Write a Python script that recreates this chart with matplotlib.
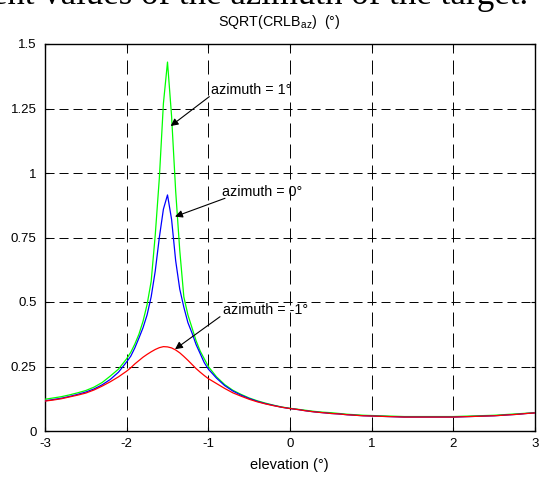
import matplotlib
matplotlib.use("Agg")
import matplotlib.pyplot as plt

plt.rcParams['font.family'] = ['Liberation Sans', 'DejaVu Sans']
plt.rcParams['mathtext.fontset'] = 'custom'
plt.rcParams['mathtext.rm'] = 'Liberation Sans'
plt.rcParams['mathtext.it'] = 'Liberation Sans:italic'

# elevation grid (deg)
elevation = [-3.0, -2.9, -2.8, -2.7, -2.6, -2.5, -2.4, -2.3, -2.2, -2.1, -2.0,
             -1.95, -1.9, -1.85, -1.8, -1.75, -1.7, -1.65, -1.6, -1.55, -1.5,
             -1.45, -1.4, -1.35, -1.3, -1.25, -1.2, -1.15, -1.1, -1.05, -1.0,
             -0.9, -0.8, -0.7, -0.6, -0.5, -0.4, -0.3, -0.2, -0.1, 0.0,
             0.1, 0.2, 0.3, 0.4, 0.5, 0.6, 0.7, 0.8, 0.9, 1.0,
             1.1, 1.2, 1.3, 1.4, 1.5, 1.6, 1.7, 1.8, 1.9, 2.0,
             2.1, 2.2, 2.3, 2.4, 2.5, 2.6, 2.7, 2.8, 2.9, 3.0]

# sqrt(CRLB_az) in degrees for three target azimuths
crlb_az_plus1 = [0.123, 0.128, 0.133, 0.14, 0.148, 0.157, 0.17, 0.188, 0.213, 0.24, 0.28,
                 0.305, 0.337, 0.375, 0.425, 0.49, 0.58, 0.76, 0.98, 1.27, 1.43,
                 1.22, 0.93, 0.70, 0.52, 0.45, 0.40, 0.35, 0.31, 0.28, 0.25,
                 0.21, 0.18, 0.158, 0.142, 0.128, 0.117, 0.108, 0.1, 0.093, 0.088,
                 0.084, 0.08, 0.076, 0.073, 0.071, 0.068, 0.065, 0.063, 0.061, 0.06,
                 0.059, 0.058, 0.057, 0.056, 0.056, 0.056, 0.056, 0.056, 0.056, 0.056,
                 0.057, 0.058, 0.059, 0.06, 0.061, 0.063, 0.065, 0.067, 0.069, 0.071]

crlb_az_zero = [0.117, 0.122, 0.127, 0.134, 0.142, 0.151, 0.163, 0.179, 0.2, 0.228, 0.268,
                0.29, 0.322, 0.36, 0.40, 0.45, 0.52, 0.62, 0.75, 0.86, 0.915,
                0.82, 0.66, 0.55, 0.48, 0.42, 0.38, 0.335, 0.30, 0.265, 0.24,
                0.205, 0.176, 0.155, 0.139, 0.126, 0.115, 0.106, 0.099, 0.092, 0.087,
                0.083, 0.078, 0.074, 0.071, 0.068, 0.066, 0.063, 0.061, 0.059, 0.058,
                0.057, 0.056, 0.055, 0.054, 0.054, 0.054, 0.054, 0.054, 0.054, 0.054,
                0.055, 0.056, 0.057, 0.058, 0.059, 0.061, 0.063, 0.065, 0.068, 0.07]

crlb_az_minus1 = [0.116, 0.12, 0.125, 0.132, 0.139, 0.147, 0.159, 0.174, 0.191, 0.21, 0.232,
                  0.245, 0.26, 0.273, 0.286, 0.297, 0.307, 0.316, 0.323, 0.327, 0.326,
                  0.322, 0.314, 0.303, 0.289, 0.274, 0.258, 0.242, 0.228, 0.215, 0.203,
                  0.184, 0.165, 0.148, 0.135, 0.123, 0.113, 0.105, 0.098, 0.092, 0.087,
                  0.083, 0.078, 0.074, 0.071, 0.068, 0.066, 0.063, 0.061, 0.059, 0.058,
                  0.057, 0.056, 0.055, 0.054, 0.054, 0.054, 0.054, 0.054, 0.054, 0.054,
                  0.055, 0.056, 0.057, 0.058, 0.059, 0.061, 0.063, 0.065, 0.068, 0.07]

x_ticks = [-3, -2, -1, 0, 1, 2, 3]
x_tick_labels = ['-3', '-2', '-1', '0', '1', '2', '3']
y_ticks = [0, 0.25, 0.5, 0.75, 1, 1.25, 1.5]
y_tick_labels = ['0', '0.25', '0.5', '0.75', '1', '1.25', '1.5']

labels = ['azimuth = 1°', 'azimuth = 0°', 'azimuth = -1°']

fig = plt.figure(figsize=(5.4, 4.78), dpi=100)
ax = fig.add_axes([45 / 540, 1 - 431 / 478, 490 / 540, 387 / 478])

ax.plot(elevation, crlb_az_plus1, color=(0, 1, 0), lw=0.9, zorder=3)
ax.plot(elevation, crlb_az_zero, color=(0, 0, 1), lw=0.9, zorder=3)
ax.plot(elevation, crlb_az_minus1, color=(1, 0, 0), lw=0.9, zorder=3)

ax.set_xlim(-3, 3)
ax.set_ylim(0, 1.5)
ax.set_xticks(x_ticks)
ax.set_xticklabels(x_tick_labels)
ax.set_yticks(y_ticks)
ax.set_yticklabels(y_tick_labels)
ax.tick_params(direction='in', length=3, width=0.8, top=True, right=True,
               labelsize=9.5, colors='k')
ax.tick_params(axis='x', pad=5)
ax.tick_params(axis='y', pad=6)

ax.xaxis.grid(True, color='k', linewidth=0.7, linestyle=(0, (14.4, 7.2)), zorder=1)
ax.yaxis.grid(True, color='k', linewidth=0.7, linestyle=(0, (9.3, 5.1)), zorder=1)
ax.set_axisbelow(True)
for s in ax.spines.values():
    s.set_linewidth(1.0)
    s.set_color('k')

# annotations with arrows
ann = [
    (labels[0], (-0.97, 1.32), (-0.988, 1.296), (-1.461, 1.182)),
    (labels[1], (-0.836, 0.928), (-0.796, 0.902), (-1.408, 0.831)),
    (labels[2], (-0.824, 0.469), (-0.857, 0.443), (-1.408, 0.317)),
]
for text, tpos, tail, head in ann:
    ax.text(tpos[0], tpos[1], text, fontsize=10.3, ha='left', va='center', zorder=5)
    ax.annotate('', xy=head, xytext=tail,
                arrowprops=dict(arrowstyle='-|>', color='k', lw=0.8,
                                mutation_scale=11, shrinkA=0, shrinkB=0),
                zorder=5)

fig.text(279 / 540, 1 - 26 / 478, r'SQRT(CRLB$_{\mathrm{az}}$)  (°)',
         ha='center', va='baseline', fontsize=10.3)
fig.text(289 / 540, 1 - 465 / 478, 'elevation (°)', ha='center', va='center',
         fontsize=10.5)
fig.text(528 / 540, 1 - 4.5 / 478, 'ent values of the azimuth of the target.',
         ha='right', va='baseline', fontsize=25, family='Liberation Serif')

fig.savefig('out.png', dpi=100)
